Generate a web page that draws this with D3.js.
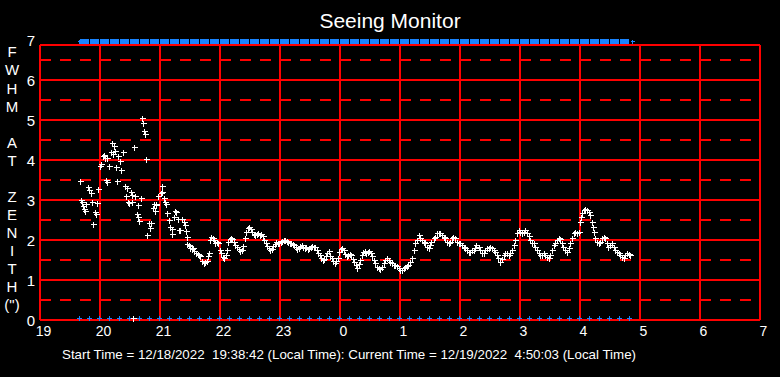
<!DOCTYPE html>
<html>
<head>
<meta charset="utf-8">
<script src="https://cdn.jsdelivr.net/npm/d3@7"></script>
<style>
  body { margin: 0; background: #000; }
  svg { display: block; font-family: Arial, "Liberation Sans", sans-serif; }
</style>
</head>
<body>
<div id="chart"></div>
<script>
////////////////////////////////  data  ////////////////////////////////////
// hour labels along the bottom, 19:00 -> 07:00
var hourTicks = [19, 20, 21, 22, 23, 0, 1, 2, 3, 4, 5, 6, 7];
var fwhmTicks = [0, 1, 2, 3, 4, 5, 6, 7];
var fwhmHalf = [0.5, 1.5, 2.5, 3.5, 4.5, 5.5, 6.5];
var yLetters = ["F", "W", "H", "M", "", "A", "T", "", "Z", "E", "N", "I", "T", "H", "(\")"];

// seeing samples: minutes after 19:00 and FWHM (arcsec)
var seeMin = [40, 41, 42, 43, 44, 45, 46, 48, 49, 51, 52, 53, 55, 56, 57, 58, 60, 61, 63, 64,
  65, 66, 66.5, 67, 69, 71, 72, 72.5, 74, 75, 76, 77, 78, 80, 81, 83, 85, 85.5, 87, 88,
  89, 91, 91.5, 92, 93, 94, 95, 97, 97.5, 98, 99, 101, 102, 103, 104, 105, 106, 107, 109, 109.5,
  111, 113, 114, 115, 115.5, 116, 118, 120.5, 121.5, 122, 124, 125, 126, 127, 129, 130, 131.5, 132, 134, 135,
  136.5, 137.5, 138.5, 139.5, 142, 143.5, 145, 145.5, 146.5, 147.5, 148.5, 149.5, 150, 151.5, 153, 154.5, 156, 157.5, 159, 160,
  162, 163.5, 165, 166.5, 168, 168.5, 169.5, 171, 172.5, 173.5, 175, 176.5, 178, 180, 181.5, 183, 184.5, 186, 187, 188,
  189.5, 191, 192.5, 194, 195.5, 197, 198.5, 200, 201.5, 203, 204.5, 206, 207.5, 209, 210.5, 212, 213.5, 215, 216.5, 218,
  219.5, 221, 222.5, 224, 225.5, 227, 228.5, 230, 231.5, 233, 234.5, 236, 237.5, 239, 240.5, 242, 243.5, 245, 246.5, 248,
  249.5, 251, 252.5, 254, 255.5, 257, 258.5, 260, 261.5, 263, 264.5, 266, 267.5, 269, 270.5, 272, 273.5, 275, 276.5, 278,
  279.5, 281, 282.5, 284, 285.5, 287, 288.5, 290, 291.5, 293, 294.5, 296, 297.5, 299, 300.5, 302, 303.5, 305, 306.5, 308,
  309.5, 311, 312.5, 314, 315.5, 317, 318.5, 320, 321.5, 323, 324.5, 326, 327.5, 329, 330.5, 332, 333.5, 335, 336.5, 338.5,
  340, 341.5, 343.5, 345, 346.5, 348.5, 350, 351.5, 353.5, 355, 356.5, 358.5, 360, 361.5, 363.5, 365, 366.5, 368.5, 370, 371.5,
  373.5, 375, 376.5, 378.5, 380, 381.5, 383.5, 385, 386.5, 388.5, 390, 391.5, 393.5, 395, 396.5, 398.5, 400, 401.5, 403.5, 405,
  406.5, 408.5, 410, 411.5, 413.5, 415, 416.5, 418.5, 420, 421.5, 423.5, 425, 426.5, 428.5, 430, 431.5, 433.5, 435, 436.5, 438.5,
  440, 441.5, 443.5, 445, 446.5, 448.5, 450, 451.5, 453.5, 455, 456.5, 458.5, 460, 461.5, 463.5, 465, 466.5, 468.5, 470, 471.5,
  473.5, 475, 476.5, 478.5, 480, 481.5, 483.5, 485, 486.5, 488.5, 490, 491.5, 493.5, 495, 496.5, 498.5, 500, 501.5, 503.5, 505,
  506.5, 508.5, 510, 511.5, 513.5, 515, 516.5, 518.5, 520, 521.5, 523.5, 525, 526.5, 528.5, 530, 531.5, 533.5, 535, 536.5, 538.5,
  540, 540.5, 541.5, 543.5, 545, 546.5, 548.5, 550, 551.5, 552.5, 553.5, 555, 556.5, 558.5, 560, 561.5, 563.5, 565, 566.5, 568.5,
  570, 571.5, 573.5, 575, 576.5, 578.5, 580, 581.5, 583.5, 585, 586.5, 588.5, 590];

var seeVal = [3.47, 3.0, 2.95, 2.85, 2.78, 2.72, 2.9, 3.32, 3.25, 3.17, 2.94, 2.39, 2.71, 2.66, 2.92, 3.28, 3.85, 3.89, 4.1, 4.13,
  4.06, 3.5, 3.45, 4.06, 3.86, 4.19, 4.42, 4.14, 4.36, 4.23, 3.83, 3.47, 4.11, 3.98, 3.74, 4.19, 3.34, 3.11, 3.29, 2.96,
  2.93, 3.19, 3.12, 2.95, 0, 4.32, 3.09, 2.65, 2.58, 2.87, 2.47, 3.06, 5.04, 4.92, 4.72, 4.64, 4.02, 2.12, 2.42, 2.29,
  2.42, 2.79, 2.9, 2.72, 2.88, 2.9, 3.11, 3.17, 3.2, 3.35, 3.04, 2.95, 2.89, 2.67, 2.5, 2.33, 2.14, 2.28, 2.57, 2.72,
  2.69, 2.52, 2.24, 2.24, 2.53, 2.45, 2.38, 2.22, 2.07, 1.9, 1.88, 1.8, 1.85, 1.78, 1.8, 1.72, 1.68, 1.65, 1.62, 1.6,
  1.48, 1.42, 1.44, 1.48, 1.6, 1.67, 2.0, 2.08, 2.04, 2.0, 1.92, 1.94, 1.92, 1.75, 1.68, 1.58, 1.55, 1.62, 1.75, 1.95,
  2.02, 2.04, 2.02, 1.95, 1.88, 1.82, 1.78, 1.72, 1.75, 1.85, 2.05, 2.2, 2.3, 2.33, 2.28, 2.2, 2.15, 2.12, 2.15, 2.17,
  2.12, 2.15, 2.1, 2.0, 1.92, 1.85, 1.8, 1.75, 1.78, 1.85, 1.9, 1.95, 1.93, 1.92, 1.95, 1.98, 2.0, 2.0, 1.98, 1.95,
  1.92, 1.93, 1.9, 1.88, 1.82, 1.78, 1.8, 1.85, 1.87, 1.83, 1.8, 1.82, 1.78, 1.8, 1.82, 1.85, 1.82, 1.83, 1.75, 1.67,
  1.62, 1.55, 1.5, 1.52, 1.6, 1.68, 1.72, 1.6, 1.55, 1.48, 1.43, 1.48, 1.55, 1.7, 1.78, 1.8, 1.75, 1.65, 1.6, 1.62,
  1.65, 1.62, 1.52, 1.45, 1.38, 1.3, 1.4, 1.5, 1.62, 1.7, 1.72, 1.68, 1.7, 1.72, 1.67, 1.6, 1.5, 1.42, 1.33, 1.29,
  1.27, 1.33, 1.42, 1.5, 1.54, 1.5, 1.46, 1.42, 1.37, 1.37, 1.35, 1.29, 1.25, 1.25, 1.29, 1.33, 1.35, 1.37, 1.46, 1.54,
  1.75, 1.92, 2.0, 2.12, 2.04, 2.0, 1.96, 1.92, 1.83, 1.79, 1.87, 1.96, 2.04, 2.08, 2.17, 2.17, 2.17, 2.12, 2.08, 2.04,
  1.96, 1.92, 1.96, 2.04, 2.08, 2.04, 1.96, 1.92, 1.92, 1.87, 1.83, 1.79, 1.75, 1.71, 1.71, 1.75, 1.75, 1.79, 1.87, 1.83,
  1.75, 1.67, 1.67, 1.75, 1.79, 1.79, 1.83, 1.79, 1.75, 1.71, 1.63, 1.54, 1.46, 1.52, 1.63, 1.67, 1.67, 1.63, 1.67, 1.75,
  1.88, 2.0, 2.17, 2.25, 2.21, 2.17, 2.21, 2.25, 2.17, 2.1, 2.0, 1.92, 1.92, 1.83, 1.75, 1.67, 1.63, 1.63, 1.67, 1.63,
  1.58, 1.54, 1.63, 1.75, 1.88, 1.92, 2.0, 2.04, 2.02, 1.92, 1.83, 1.75, 1.71, 1.79, 1.92, 2.04, 2.17, 2.21, 2.17, 2.21,
  2.46, 2.58, 2.67, 2.75, 2.77, 2.75, 2.71, 2.63, 2.46, 2.33, 2.21, 2.04, 1.96, 1.93, 1.96, 2.04, 2.08, 2.04, 1.92, 1.83,
  1.88, 1.92, 1.83, 1.75, 1.71, 1.67, 1.63, 1.58, 1.54, 1.63, 1.67, 1.64, 1.63];

// status marks (drawn at top and bottom), minutes after 19:00
var statusMin = [38.7, 48.7, 58.7, 68.7, 78.7, 88.7, 98.7, 108.7, 118.7, 128.7, 138.7, 148.7, 158.7, 168.7,
  178.7, 188.7, 198.7, 208.7, 218.7, 228.7, 238.7, 248.7, 258.7, 268.7, 278.7, 288.7, 298.7, 308.7,
  318.7, 328.7, 338.7, 348.7, 358.7, 368.7, 378.7, 388.7, 398.7, 408.7, 418.7, 428.7, 438.7, 448.7,
  458.7, 468.7, 478.7, 488.7, 498.7, 508.7, 518.7, 528.7, 538.7, 548.7, 558.7, 568.7, 578.7, 588.7];

var titleText = "Seeing Monitor";
var footerText = "Start Time = 12/18/2022  19:38:42 (Local Time): Current Time = 12/19/2022  4:50:03 (Local Time)";

//////////////////////////////  setup  ////////////////////////////////////
var W = 780, H = 377;
var PLOT = {left: 40, right: 760, top: 45, bottom: 320};

var svg = d3.select("#chart").append("svg")
  .attr("width", W)
  .attr("height", H)
  .style("background", "#000");

var x = d3.scaleLinear().domain([0, 720]).range([PLOT.left, PLOT.right]);
var y = d3.scaleLinear().domain([0, 7]).range([PLOT.bottom, 40]);

function hourToMin(h) { return ((h + 5) % 24) * 60; }

var red = "#ff0000", blue = "#1a84ff";

////////////////////////////// grid ////////////////////////////////////////
var grid = svg.append("g").attr("shape-rendering", "crispEdges");

grid.selectAll(".half")
  .data(fwhmHalf)
  .enter().append("line")
  .attr("class", "half")
  .attr("x1", PLOT.left).attr("x2", PLOT.right)
  .attr("y1", function(d) { return y(d); })
  .attr("y2", function(d) { return y(d); })
  .attr("stroke", red).attr("stroke-width", 2)
  .attr("stroke-dasharray", "11,9");

grid.selectAll(".whole")
  .data(fwhmTicks.filter(function(d) { return d < 7; }))
  .enter().append("line")
  .attr("class", "whole")
  .attr("x1", PLOT.left).attr("x2", PLOT.right)
  .attr("y1", function(d) { return y(d); })
  .attr("y2", function(d) { return y(d); })
  .attr("stroke", red).attr("stroke-width", 2);

// top frame edge
grid.append("line")
  .attr("x1", PLOT.left).attr("x2", PLOT.right)
  .attr("y1", PLOT.top).attr("y2", PLOT.top)
  .attr("stroke", red).attr("stroke-width", 2);

grid.selectAll(".vert")
  .data(hourTicks)
  .enter().append("line")
  .attr("class", "vert")
  .attr("x1", function(d) { return x(hourToMin(d)); })
  .attr("x2", function(d) { return x(hourToMin(d)); })
  .attr("y1", PLOT.top).attr("y2", PLOT.bottom)
  .attr("stroke", red).attr("stroke-width", 2);

////////////////////////////// axes labels //////////////////////////////////
var xAxis = d3.axisBottom(x)
  .tickValues(hourTicks.map(hourToMin))
  .tickFormat(function(m) { return (19 + m / 60) % 24; })
  .tickSize(0).tickPadding(0);

var gx = svg.append("g")
  .attr("transform", "translate(3," + (PLOT.bottom + 16) + ")")
  .call(xAxis);
gx.select(".domain").remove();
gx.selectAll("text")
  .attr("dy", 0)
  .attr("fill", "#fff")
  .style("font-size", "14px")
  .style("font-family", "Arial, 'Liberation Sans', sans-serif");

var yAxis = d3.axisLeft(y).tickValues(fwhmTicks).tickFormat(d3.format("d"))
  .tickSize(0).tickPadding(0);
var gy = svg.append("g")
  .attr("transform", "translate(31,0)")
  .call(yAxis);
gy.select(".domain").remove();
gy.selectAll("text")
  .attr("text-anchor", "middle")
  .attr("dy", "0.36em")
  .attr("fill", "#fff")
  .style("font-size", "15px")
  .style("font-family", "Arial, 'Liberation Sans', sans-serif");

svg.append("g").selectAll("text")
  .data(yLetters)
  .enter().append("text")
  .attr("x", 12)
  .attr("y", function(d, i) { return 52 + i * 18.07; })
  .attr("dy", "0.36em")
  .attr("text-anchor", "middle")
  .attr("fill", "#fff")
  .style("font-size", "15px")
  .text(function(d) { return d; });

svg.append("text")
  .attr("x", 390).attr("y", 28)
  .attr("text-anchor", "middle")
  .attr("fill", "#fff")
  .style("font-size", "21px")
  .text(titleText);

svg.append("text")
  .attr("x", 62).attr("y", 359)
  .attr("fill", "#fff")
  .attr("textLength", 574)
  .attr("lengthAdjust", "spacingAndGlyphs")
  .style("font-size", "13px")
  .style("white-space", "pre")
  .text(footerText);

////////////////////////////// status marks ////////////////////////////////
var marks = svg.append("g").attr("shape-rendering", "crispEdges");

// top bar: one block per interval
marks.selectAll(".topbar")
  .data(statusMin.slice(0, -1))
  .enter().append("rect")
  .attr("class", "topbar")
  .attr("x", function(d) { return Math.round(x(d)) + 1; })
  .attr("y", Math.round(y(7)) - 1)
  .attr("width", 9)
  .attr("height", 5)
  .attr("fill", blue);

function plus(px, py, r) {
  px = Math.round(px) + 0.5; py = Math.round(py) + 0.5;
  return "M" + (px - r) + "," + py + "h" + (2 * r) + "M" + px + "," + (py - r) + "v" + (2 * r);
}

marks.append("path")
  .attr("d", plus(x(statusMin[0]), y(7) + 1, 2) + plus(x(statusMin[statusMin.length - 1]) + 3, y(7) + 1, 2))
  .attr("stroke", blue).attr("fill", "none");

marks.selectAll(".bottom")
  .data(statusMin)
  .enter().append("path")
  .attr("class", "bottom")
  .attr("d", function(d) { return plus(x(d), y(0) - 2, 2.5); })
  .attr("stroke", blue).attr("fill", "none");

////////////////////////////// seeing points ////////////////////////////////
svg.append("g")
  .attr("shape-rendering", "crispEdges")
  .selectAll("path")
  .data(seeMin.map(function(m, i) { return {m: m, v: seeVal[i]}; }))
  .enter().append("path")
  .attr("d", function(d) { return plus(x(d.m), d.v === 0 ? y(0) - 2 : y(d.v), 3); })
  .attr("stroke", "#fff")
  .attr("fill", "none");
</script>
</body>
</html>
